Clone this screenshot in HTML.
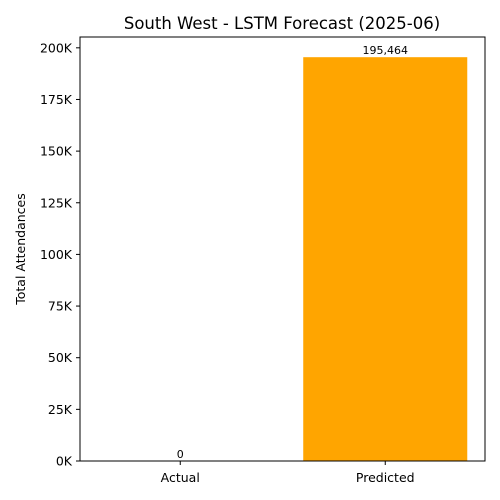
<!DOCTYPE html>
<html><head><meta charset="utf-8"><style>
html,body{margin:0;padding:0;background:#fff;overflow:hidden;width:500px;height:500px;}
svg{display:block;font-family:"DejaVu Sans","Liberation Sans",sans-serif;}
</style></head><body>
<svg id="chart" width="500" height="500">
<text x="282" y="29" text-anchor="middle" font-size="16.5">South West - LSTM Forecast (2025-06)</text>
<text transform="translate(25,249) rotate(-90)" text-anchor="middle" font-size="12.5">Total Attendances</text>
<g id="marks"></g>
<rect x="80" y="37" width="405" height="424" fill="none" stroke="#000" stroke-width="1"/>
</svg>
<script>
const categories=["Actual","Predicted"];
const values=[0,195464];
const valueLabels=["0","195,464"];
const colors=["#1f77b4","orange"];
const yTicks=[0,25000,50000,75000,100000,125000,150000,175000,200000];
const yTickLabels=["0K","25K","50K","75K","100K","125K","150K","175K","200K"];

const L=80,R=485,T=37,B=461;
const yMax=Math.max(...values)*1.05;
const y=v=>B-(v/yMax)*(B-T);
const step=(R-L)/categories.length;
const x=i=>L+step*(i+0.5)+(i===0?-1:1.5);
const bw=step*0.81;
const ns="http://www.w3.org/2000/svg";
const g=document.getElementById('marks');
function mk(tag,attrs){const e=document.createElementNS(ns,tag);for(const k in attrs)e.setAttribute(k,attrs[k]);g.appendChild(e);return e;}
yTicks.forEach((t,i)=>{
  const l=mk('line',{x1:L-4,x2:L,y1:y(t),y2:y(t),stroke:'#000'});
  
  
  const tx=mk('text',{x:L-8,y:y(t)+4.5,'text-anchor':'end','font-size':'12.5'});
  tx.textContent=yTickLabels[i];
  
  
});
categories.forEach((c,i)=>{
  const r=mk('rect',{x:x(i)-bw/2,y:y(values[i]),width:bw,height:B-y(values[i]),fill:colors[i]});
  
  
  const vl=mk('text',{x:x(i),y:y(values[i])-3,'text-anchor':'middle','font-size':'11'});
  vl.textContent=valueLabels[i];
  
  
  const tk=mk('line',{x1:x(i),x2:x(i),y1:B,y2:B+4,stroke:'#000'});
  
  
  const xl=mk('text',{x:x(i),y:B+21,'text-anchor':'middle','font-size':'12.5'});
  xl.textContent=c;
  
  
});
</script>
</body></html>
